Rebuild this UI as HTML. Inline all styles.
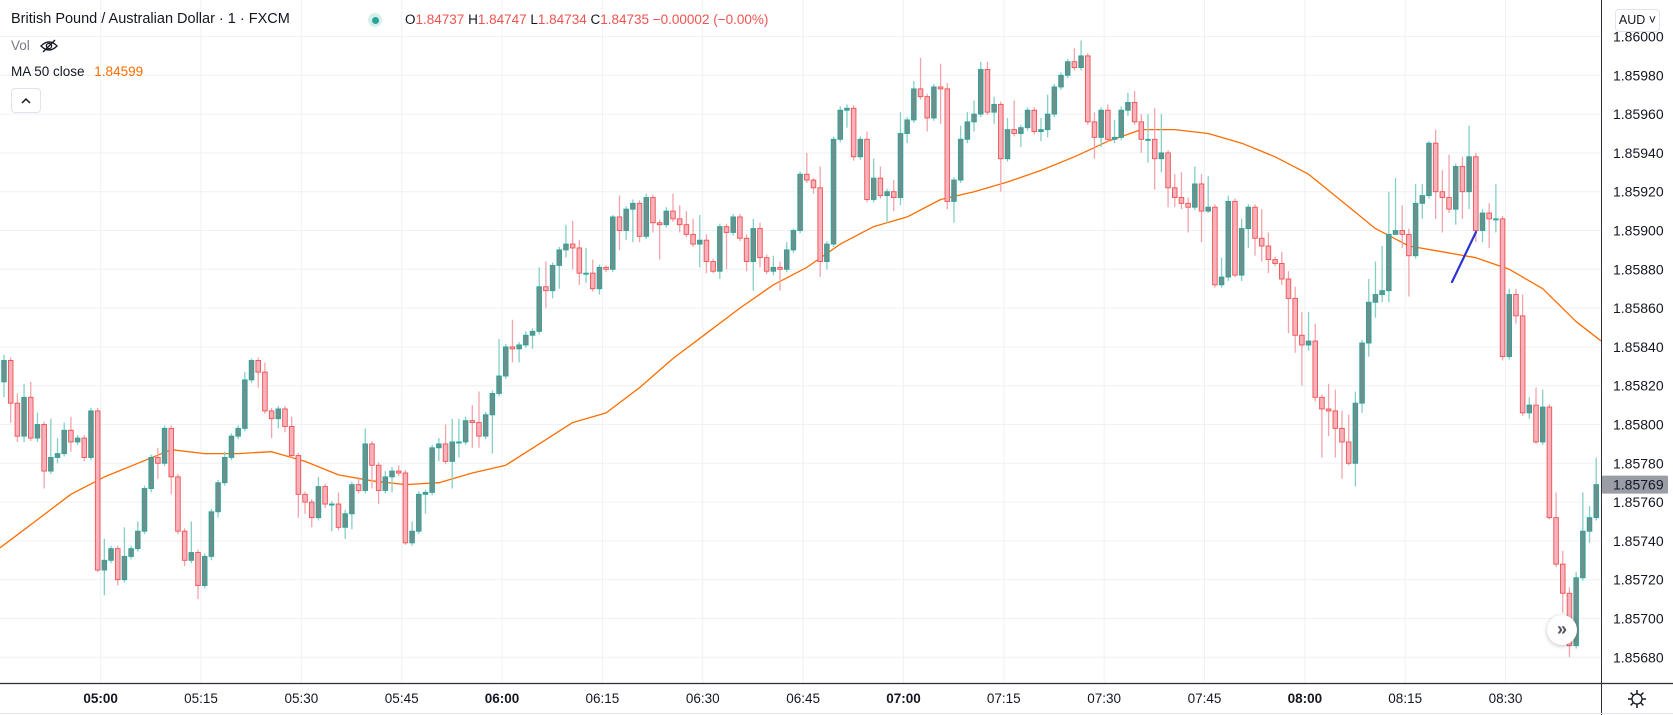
<!DOCTYPE html>
<html><head><meta charset="utf-8">
<style>
html,body{margin:0;padding:0;background:#fff;}
body{width:1673px;height:715px;overflow:hidden;position:relative;font-family:"Liberation Sans",sans-serif;}
svg{position:absolute;left:0;top:0;}
.hdr{position:absolute;font-size:14px;color:#131722;white-space:nowrap;}
</style></head>
<body>
<svg id="chart" width="1673" height="715" viewBox="0 0 1673 715" xmlns="http://www.w3.org/2000/svg">
  <g id="grid"></g>
  <g id="ma"></g>
  <g id="candles"></g>
  <line x1="1452" y1="282" x2="1476" y2="232" stroke="#2c32d4" stroke-width="2.2" stroke-linecap="round"/>
  <g id="yaxis"></g>
  <g id="xaxis"></g>
</svg>

<div class="hdr" style="left:11px;top:11px;font-size:14.5px;">British Pound / Australian Dollar · 1 · FXCM</div>
<div style="position:absolute;left:368px;top:13px;width:14px;height:14px;border-radius:50%;background:#d6efeb;"><div style="position:absolute;left:3.5px;top:3.5px;width:7px;height:7px;border-radius:50%;background:#26a69a;"></div></div>
<div class="hdr" style="left:405px;top:12px;font-size:13.5px;color:#ef5350;">
<span style="color:#131722">O</span>1.84737 <span style="color:#131722">H</span>1.84747 <span style="color:#131722">L</span>1.84734 <span style="color:#131722">C</span>1.84735 −0.00002 (−0.00%)</div>
<div class="hdr" style="left:11px;top:38px;color:#787b86;font-size:13.5px;">Vol
<svg style="position:absolute;left:28px;top:0px" width="20" height="16" viewBox="0 0 20 16"><path d="M2 8 Q10 0 18 8 Q10 16 2 8Z" fill="none" stroke="#131722" stroke-width="1.3"/><circle cx="10" cy="8" r="2.6" fill="none" stroke="#131722" stroke-width="1.3"/><line x1="4" y1="14" x2="16" y2="2" stroke="#131722" stroke-width="1.3"/></svg></div>
<div class="hdr" style="left:11px;top:64px;font-size:13.5px;">MA 50 close <span style="color:#ff6d00;margin-left:6px">1.84599</span></div>
<div style="position:absolute;left:11px;top:88px;width:28px;height:23px;border:1px solid #e0e3eb;border-radius:4px;background:#fff;">
<svg width="28" height="23" viewBox="0 0 28 23"><path d="M10 14 L14 10 L18 14" fill="none" stroke="#131722" stroke-width="1.5"/></svg></div>
<div style="position:absolute;left:1615px;top:9px;width:43px;height:21px;border:1px solid #e0e3eb;border-radius:4px;background:#fff;font-size:12.5px;color:#131722;line-height:21px;text-align:center;">AUD ˅</div>
<div style="position:absolute;left:1547px;top:615px;width:30px;height:30px;border-radius:50%;background:#fff;box-shadow:0 1px 4px rgba(0,0,0,0.25);font-size:18px;line-height:28px;text-align:center;color:#50535e;font-weight:bold;">»</div>
<svg style="position:absolute;left:1627px;top:689px" width="20" height="20" viewBox="0 0 20 20"><circle cx="10" cy="10" r="5" fill="none" stroke="#131722" stroke-width="1.3"/><g stroke="#131722" stroke-width="1.5"><line x1="10" y1="1" x2="10" y2="5"/><line x1="10" y1="15" x2="10" y2="19"/><line x1="1" y1="10" x2="5" y2="10"/><line x1="15" y1="10" x2="19" y2="10"/><line x1="3.6" y1="3.6" x2="6.4" y2="6.4"/><line x1="13.6" y1="13.6" x2="16.4" y2="16.4"/><line x1="3.6" y1="16.4" x2="6.4" y2="13.6"/><line x1="13.6" y1="6.4" x2="16.4" y2="3.6"/></g></svg>

<script>
const firstOpen = 1.85822;
const closes = [
1.85833,1.85811,1.85794,1.85814,1.85793,1.85800,1.85776,1.85783,1.85785,1.85797,
1.85791,1.85793,1.85783,1.85807,1.85725,1.85730,1.85736,1.85720,1.85732,1.85736,
1.85745,1.85767,1.85783,1.85780,1.85798,1.85773,1.85745,1.85730,1.85734,1.85717,
1.85732,1.85755,1.85770,1.85783,1.85794,1.85798,1.85823,1.85833,1.85827,1.85807,
1.85803,1.85808,1.85799,1.85784,1.85764,1.85760,1.85752,1.85768,1.85759,1.85759,
1.85747,1.85754,1.85769,1.85766,1.85790,1.85779,1.85766,1.85773,1.85776,1.85775,
1.85739,1.85745,1.85764,1.85765,1.85788,1.85790,1.85781,1.85791,1.85791,1.85802,
1.85801,1.85794,1.85805,1.85816,1.85825,1.85840,1.85839,1.85841,1.85846,1.85848,
1.85871,1.85869,1.85882,1.85890,1.85893,1.85891,1.85878,1.85878,1.85870,1.85881,
1.85880,1.85907,1.85900,1.85911,1.85914,1.85897,1.85917,1.85904,1.85903,1.85910,
1.85906,1.85903,1.85898,1.85893,1.85895,1.85884,1.85879,1.85902,1.85899,1.85907,
1.85896,1.85884,1.85901,1.85886,1.85879,1.85881,1.85880,1.85890,1.85900,1.85929,
1.85926,1.85922,1.85884,1.85893,1.85947,1.85962,1.85963,1.85938,1.85947,1.85916,
1.85927,1.85918,1.85920,1.85917,1.85950,1.85957,1.85973,1.85969,1.85958,1.85974,
1.85973,1.85915,1.85926,1.85947,1.85956,1.85960,1.85983,1.85961,1.85965,1.85937,
1.85952,1.85950,1.85953,1.85962,1.85951,1.85952,1.85960,1.85974,1.85980,1.85987,
1.85984,1.85990,1.85956,1.85948,1.85962,1.85947,1.85948,1.85962,1.85966,1.85956,
1.85947,1.85947,1.85937,1.85940,1.85922,1.85917,1.85914,1.85912,1.85924,1.85910,
1.85912,1.85872,1.85876,1.85915,1.85877,1.85901,1.85912,1.85896,1.85892,1.85885,
1.85883,1.85875,1.85865,1.85846,1.85841,1.85843,1.85814,1.85808,1.85807,1.85798,
1.85791,1.85780,1.85811,1.85842,1.85863,1.85867,1.85869,1.85898,1.85900,1.85898,
1.85887,1.85914,1.85918,1.85945,1.85920,1.85917,1.85911,1.85933,1.85920,1.85938,
1.85900,1.85909,1.85906,1.85906,1.85835,1.85867,1.85856,1.85806,1.85810,1.85791,
1.85809,1.85752,1.85728,1.85713,1.85686,1.85721,1.85745,1.85752,1.85769
];
const wickHighs = {0:1.85836,2:1.85816,3:1.85821,4:1.85822,5:1.85806,7:1.85803,8:1.85793,9:1.85801,10:1.85804,
15:1.85741,18:1.85747,20:1.85750,23:1.85788,28:1.85750,33:1.85786,36:1.85827,37:1.85834,39:1.85832,43:1.85804,
47:1.85773,50:1.85765,51:1.85756,53:1.85773,54:1.85798,57:1.85776,58:1.85778,59:1.85779,61:1.85750,65:1.85793,
66:1.85800,67:1.85803,68:1.85803,69:1.85804,70:1.85810,71:1.85817,74:1.85844,76:1.85854,78:1.85848,80:1.85881,
81:1.85884,84:1.85903,85:1.85905,86:1.85895,87:1.85891,88:1.85885,90:1.85882,91:1.85908,92:1.85918,94:1.85916,
96:1.85919,99:1.85912,100:1.85919,101:1.85913,102:1.85910,103:1.85906,104:1.85908,105:1.85898,111:1.85898,
112:1.85906,113:1.85904,115:1.85887,116:1.85884,117:1.85894,118:1.85901,120:1.85940,121:1.85927,122:1.85933,
125:1.85964,126:1.85965,129:1.85951,130:1.85937,131:1.85933,133:1.85926,134:1.85961,136:1.85977,137:1.85989,
140:1.85986,141:1.85976,143:1.85954,144:1.85961,145:1.85967,146:1.85987,147:1.85987,148:1.85969,150:1.85958,
151:1.85967,155:1.85958,156:1.85970,160:1.85994,161:1.85998,163:1.85961,165:1.85965,166:1.85957,167:1.85964,
168:1.85971,169:1.85972,170:1.85960,171:1.85960,172:1.85963,173:1.85960,175:1.85929,176:1.85930,177:1.85917,
178:1.85933,179:1.85929,180:1.85928,182:1.85886,183:1.85918,185:1.85906,188:1.85911,189:1.85899,191:1.85889,
192:1.85879,193:1.85871,194:1.85858,195:1.85858,196:1.85852,198:1.85821,199:1.85818,200:1.85807,201:1.85805,
202:1.85817,204:1.85875,205:1.85884,206:1.85892,207:1.85920,208:1.85927,209:1.85913,210:1.85901,211:1.85924,
212:1.85924,213:1.85946,214:1.85952,215:1.85931,216:1.85939,218:1.85938,219:1.85954,220:1.85940,221:1.85911,
222:1.85914,223:1.85924,225:1.85870,226:1.85870,227:1.85867,228:1.85814,229:1.85819,230:1.85818,232:1.85765,
233:1.85735,234:1.85716,235:1.85724,236:1.85765,237:1.85758,238:1.85783};
const wickLows = {0:1.85814,1:1.85801,2:1.85791,3:1.85791,5:1.85791,6:1.85767,8:1.85780,10:1.85786,12:1.85781,
14:1.85724,15:1.85712,17:1.85717,22:1.85765,23:1.85772,25:1.85764,27:1.85727,29:1.85710,31:1.85730,32:1.85752,
38:1.85819,40:1.85793,41:1.85798,42:1.85796,44:1.85752,45:1.85754,46:1.85747,48:1.85757,49:1.85745,51:1.85741,
52:1.85746,55:1.85767,56:1.85759,58:1.85765,60:1.85738,63:1.85754,65:1.85781,67:1.85767,68:1.85783,70:1.85788,
71:1.85788,73:1.85785,76:1.85832,77:1.85832,79:1.85839,81:1.85860,82:1.85865,83:1.85870,84:1.85886,85:1.85880,
86:1.85872,87:1.85873,89:1.85867,92:1.85890,93:1.85895,94:1.85894,95:1.85894,97:1.85899,98:1.85885,101:1.85899,
104:1.85881,105:1.85878,106:1.85878,107:1.85875,108:1.85880,111:1.85879,112:1.85869,113:1.85881,115:1.85877,
116:1.85869,121:1.85919,122:1.85876,123:1.85880,126:1.85953,127:1.85936,132:1.85904,133:1.85910,134:1.85913,
135:1.85945,138:1.85951,140:1.85955,141:1.85911,142:1.85904,144:1.85945,145:1.85951,148:1.85955,149:1.85920,
152:1.85943,155:1.85946,156:1.85948,163:1.85937,164:1.85943,166:1.85945,168:1.85959,170:1.85940,171:1.85935,
172:1.85921,173:1.85930,174:1.85912,175:1.85912,176:1.85911,177:1.85899,179:1.85894,180:1.85909,183:1.85874,
184:1.85876,185:1.85874,186:1.85891,187:1.85887,188:1.85884,189:1.85878,191:1.85872,192:1.85847,193:1.85837,
194:1.85820,195:1.85838,196:1.85812,197:1.85783,198:1.85794,199:1.85783,200:1.85772,201:1.85779,202:1.85768,
203:1.85806,204:1.85835,205:1.85855,206:1.85863,207:1.85863,208:1.85898,209:1.85891,210:1.85866,212:1.85906,
214:1.85906,215:1.85899,216:1.85909,217:1.85903,218:1.85906,219:1.85911,220:1.85894,221:1.85894,222:1.85891,
223:1.85899,224:1.85833,226:1.85852,228:1.85803,229:1.85790,231:1.85751,233:1.85703,234:1.85680,237:1.85739};
const maIndex = [0,5,10,15,20,25,30,35,40,45,50,55,60,65,70,75,80,85,90,95,100,105,110,115,120,125,130,135,140,145,150,155,160,165,170,175,180,185,190,195,200,205,210,215,220,225,230,235,238];
const maValues = [1.85738,1.85751,1.85764,1.85773,1.85780,1.85787,1.85785,1.85785,1.85786,1.85781,1.85774,1.85771,1.85769,1.85770,1.85775,1.85779,1.85790,1.85801,1.85806,1.85819,1.85834,1.85847,1.85860,1.85872,1.85881,1.85893,1.85902,1.85907,1.85916,1.85920,1.85925,1.85931,1.85938,1.85946,1.85952,1.85952,1.85950,1.85945,1.85938,1.85929,1.85915,1.85901,1.85892,1.85889,1.85886,1.85880,1.85870,1.85853,1.85845];
const priceTicks = [1.86000,1.85980,1.85960,1.85940,1.85920,1.85900,1.85880,1.85860,1.85840,1.85820,1.85800,1.85780,1.85760,1.85740,1.85720,1.85700,1.85680];
const timeTicks = ["05:00","05:15","05:30","05:45","06:00","06:15","06:30","06:45","07:00","07:15","07:30","07:45","08:00","08:15","08:30"];
const lastPrice = 1.85769;

const NS = "http://www.w3.org/2000/svg";
const PLOT_W = 1601, PLOT_H = 683;
function yOf(p){ return 36.5 + (1.86 - p) * 194000; }
function xOf(i){ return 4 + 6.69 * i; }
function mk(tag, attrs, parent){ const e = document.createElementNS(NS, tag); for (const k in attrs) e.setAttribute(k, attrs[k]); parent.appendChild(e); return e; }

const grid = document.getElementById('grid');
priceTicks.forEach(p => {
  const l = mk('line', {x1:0, x2:PLOT_W, y1:yOf(p), y2:yOf(p), stroke:'#eef1f6', 'stroke-width':1}, grid);
  
  
});
timeTicks.forEach((t, k) => {
  const x = xOf(14 + 15 * k) + 3;
  const l = mk('line', {x1:x, x2:x, y1:0, y2:PLOT_H, stroke:'#eef1f6', 'stroke-width':1}, grid);
  
  
});

// MA line
const ma = document.getElementById('ma');
let pts = maIndex.map((i, k) => [xOf(i), yOf(maValues[k])]);
const s0 = (pts[1][1] - pts[0][1]) / (pts[1][0] - pts[0][0]);
pts.unshift([0, pts[0][1] - s0 * pts[0][0]]);
const n = pts.length;
const s1 = (pts[n-1][1] - pts[n-2][1]) / (pts[n-1][0] - pts[n-2][0]);
pts.push([PLOT_W, pts[n-1][1] + s1 * (PLOT_W - pts[n-1][0])]);
const maLine = mk('polyline', {points: pts.map(p => p[0].toFixed(1) + ',' + p[1].toFixed(1)).join(' '), fill:'none', stroke:'#ff6d00', 'stroke-width':1.3, 'stroke-linejoin':'round'}, ma);



// candles
const cg = document.getElementById('candles');
closes.forEach((c, i) => {
  const o = i === 0 ? firstOpen : closes[i-1];
  const up = c >= o;
  const top = Math.max(o, c), bot = Math.min(o, c);
  const h = wickHighs[i] !== undefined ? Math.max(wickHighs[i], top) : top + 0.000015;
  const lo = wickLows[i] !== undefined ? Math.min(wickLows[i], bot) : bot - 0.000015;
  const x = xOf(i);
  const g = mk('g', {}, cg);
  
  
  mk('line', {x1:x, x2:x, y1:yOf(h), y2:yOf(lo), stroke: up ? '#86cfc6' : '#f2a4ad', 'stroke-width':1.3}, g);
  const yt = yOf(top), yb = yOf(bot);
  mk('rect', {x:x-2.3, y:yt, width:4.6, height:Math.max(yb - yt, 1), fill: up ? '#6f8f8c' : '#f7b0bc', stroke: up ? '#26a69a' : '#ef5350', 'stroke-width':0.9}, g);
});

// price axis
const ya = document.getElementById('yaxis');
mk('rect', {x:PLOT_W, y:0, width:1673-PLOT_W, height:715, fill:'#fff'}, ya);
mk('line', {x1:PLOT_W+0.5, x2:PLOT_W+0.5, y1:0, y2:715, stroke:'#2a2e39', 'stroke-width':1}, ya);
priceTicks.forEach(p => {
  const t = mk('text', {x:1613, y:yOf(p)+5, 'font-size':14, fill:'#131722', 'font-family':'Liberation Sans, sans-serif'}, ya);
  t.textContent = p.toFixed(5);
  
  
});
const lpY = yOf(lastPrice);
const lpBox = mk('rect', {x:PLOT_W+1, y:lpY-9, width:66, height:18, fill:'#9a9da5', rx:1}, ya);


const lpT = mk('text', {x:1613, y:lpY+5, 'font-size':14, fill:'#131722', 'font-family':'Liberation Sans, sans-serif'}, ya);
lpT.textContent = lastPrice.toFixed(5);

// time axis
const xa = document.getElementById('xaxis');
mk('rect', {x:0, y:PLOT_H, width:1673, height:715-PLOT_H, fill:'#fff'}, xa);
mk('line', {x1:0, x2:1673, y1:PLOT_H+0.5, y2:PLOT_H+0.5, stroke:'#2a2e39', 'stroke-width':1.2}, xa);
mk('line', {x1:PLOT_W+0.5, x2:PLOT_W+0.5, y1:PLOT_H, y2:715, stroke:'#2a2e39', 'stroke-width':1}, xa);
mk('line', {x1:0, x2:1673, y1:713.5, y2:713.5, stroke:'#e0e3eb', 'stroke-width':1}, xa);
timeTicks.forEach((t, k) => {
  const x = xOf(14 + 15 * k) + 3;
  const bold = t.endsWith(':00');
  const e = mk('text', {x:x, y:703, 'font-size':13.5, 'text-anchor':'middle', fill:'#131722', 'font-weight': bold ? 'bold' : 'normal', 'font-family':'Liberation Sans, sans-serif'}, xa);
  e.textContent = t;
  
  
});
</script>
</body></html>
